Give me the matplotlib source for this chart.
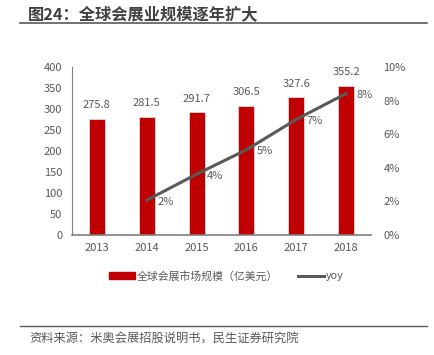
import matplotlib
matplotlib.use('Agg')
import matplotlib.pyplot as plt
import numpy as np
from matplotlib.lines import Line2D
from matplotlib.ticker import FuncFormatter

plt.rcParams['font.family'] = ['Noto Sans CJK SC', 'DejaVu Sans']

years  = ['2013', '2014', '2015', '2016', '2017', '2018']
market = [275.8, 281.5, 291.7, 306.5, 327.6, 355.2]
yoy    = [None, 2.07, 3.62, 5.07, 6.88, 8.42]
yoy_labels = ['', '2%', '4%', '5%', '7%', '8%']

TXT  = '#595959'
RED  = '#C00000'
GREY = '#595959'

W, H = 434, 355
fig = plt.figure(figsize=(W / 100, H / 100), dpi=100)
ax = fig.add_axes([72 / W, (H - 235) / H, (371 - 72) / W, (235 - 67) / H])

x = np.arange(len(years))
ax.bar(x, market, 0.32, color=RED, edgecolor='#d9d9d9', linewidth=0.6, zorder=2)
for xi, v in zip(x, market):
    ax.annotate(f'{v:.1f}', (xi, v), xytext=(0, 10), textcoords='offset points',
                ha='center', va='center', fontsize=8, color=TXT)
ax.set_xlim(-0.5, len(years) - 0.5)
ax.set_ylim(0, 400)
ax.set_yticks(range(0, 401, 50))
ax.set_xticks(x)
ax.set_xticklabels(years)
ax.tick_params(length=0, labelsize=8, labelcolor=TXT)
ax.tick_params(axis='y', pad=7)
ax.tick_params(axis='x', pad=6)
for s in ('top', 'right'):
    ax.spines[s].set_visible(False)
ax.spines['left'].set_color('#7f7f7f')
ax.spines['bottom'].set_color('#7f7f7f')
ax.spines['bottom'].set_linewidth(1.2)

ax2 = ax.twinx()
xs = [xi for xi, v in zip(x, yoy) if v is not None]
ys = [v for v in yoy if v is not None]
ax2.plot(xs, ys, color=GREY, linewidth=2.2, zorder=3)
for xi, v, lab in zip(x, yoy, yoy_labels):
    if v is None:
        continue
    ax2.annotate(lab, (xi, v), xytext=(7.5, -1), textcoords='offset points',
                 ha='left', va='center', fontsize=8, color=TXT)
ax2.set_ylim(0, 10)
ax2.set_yticks(range(0, 11, 2))
ax2.yaxis.set_major_formatter(FuncFormatter(lambda v, p: f'{v:.0f}%'))
ax2.tick_params(length=0, labelsize=8, labelcolor=TXT, pad=9)
for s in ('top', 'right', 'left', 'bottom'):
    ax2.spines[s].set_visible(False)

handles = [plt.Rectangle((0, 0), 1, 1, color=RED),
           Line2D([0], [0], color=GREY, linewidth=2.2)]
fig.legend(handles, ['全球会展市场规模（亿美元）', 'yoy'], loc='center',
           bbox_to_anchor=(226 / W, 1 - 276 / H), ncol=2, frameon=False,
           fontsize=7.8, labelcolor=TXT, handlelength=2.4, handleheight=0.6,
           handletextpad=0.2, columnspacing=1.8)

# title and source
fig.text(28 / W, 1 - 14 / H, '图24：全球会展业规模逐年扩大', fontsize=11.7,
         fontweight='bold', color='#404040', ha='left', va='center')
fig.add_artist(Line2D([20 / W, 427 / W], [1 - 23 / H, 1 - 23 / H], color='#595959', linewidth=1.2))
fig.add_artist(Line2D([20 / W, 427 / W], [1 - 326 / H, 1 - 326 / H], color='#595959', linewidth=1.0))
fig.text(29 / W, 1 - 339 / H, '资料来源：米奥会展招股说明书，民生证券研究院', fontsize=8.8,
         color=TXT, ha='left', va='center')

fig.savefig('out.png', dpi=100)
